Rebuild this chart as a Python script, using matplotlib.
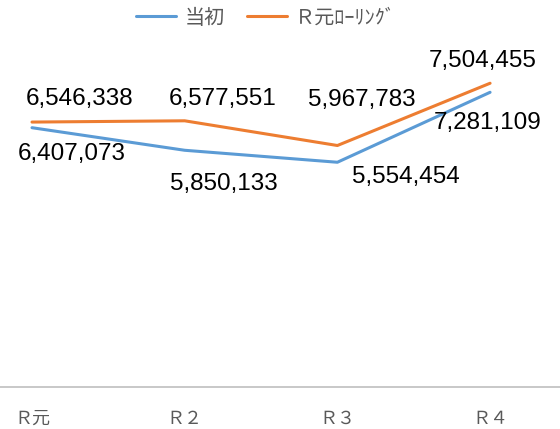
import matplotlib.pyplot as plt

plt.rcParams['font.family'] = ['Noto Sans CJK JP', 'DejaVu Sans']

# data
years = ["Ｒ元", "Ｒ２", "Ｒ３", "Ｒ４"]
initial = [6407073, 5850133, 5554454, 7281109]
rolling = [6546338, 6577551, 5967783, 7504455]
series_names = ["当初", "Ｒ元ﾛｰﾘﾝｸﾞ"]

# label offsets in pixels (dx, dy up), placed like the original
initial_offsets = [(40, -23), (39, -31), (68, -12), (-2, -28)]
rolling_offsets = [(48, 26), (38, 25), (24, 49), (-7, 25)]

blue = "#5B9BD5"
orange = "#ED7D31"

fig = plt.figure(figsize=(5.6, 4.29), dpi=100)
ax = fig.add_axes([0, 0.0972, 1, 0.85])

x = list(range(len(years)))
ax.plot(x, initial, color=blue, lw=2.2, solid_capstyle='round', solid_joinstyle='round', label=series_names[0])
ax.plot(x, rolling, color=orange, lw=2.2, solid_capstyle='round', solid_joinstyle='round', label=series_names[1])

for vals, offs in [(initial, initial_offsets), (rolling, rolling_offsets)]:
    for i, v in enumerate(vals):
        dx, dy = offs[i]
        ax.annotate("{:,}".format(v), (i, v), xytext=(dx, dy - 9), textcoords='offset pixels',
                    ha='center', va='baseline', fontsize=17.5, color='black',
                    family='Liberation Sans')

ax.set_xlim(-0.2096, 3.458)
ax.set_ylim(0, 9000000)

for s in ['top', 'left', 'right']:
    ax.spines[s].set_visible(False)
ax.spines['bottom'].set_color('#BFBFBF')
ax.spines['bottom'].set_linewidth(1.2)
ax.set_yticks([])
ax.set_xticks(x)
ax.set_xticklabels(years, fontsize=13, color='#595959')
ax.tick_params(axis='x', length=0, pad=16.5)

fig.legend(loc='center', bbox_to_anchor=(0.475, 1 - 18 / 429), ncol=2, frameon=False,
           fontsize=14.5, handlelength=2.0, handletextpad=0.4, columnspacing=1.1,
           labelcolor='#595959')

fig.savefig("out.png", dpi=100)
